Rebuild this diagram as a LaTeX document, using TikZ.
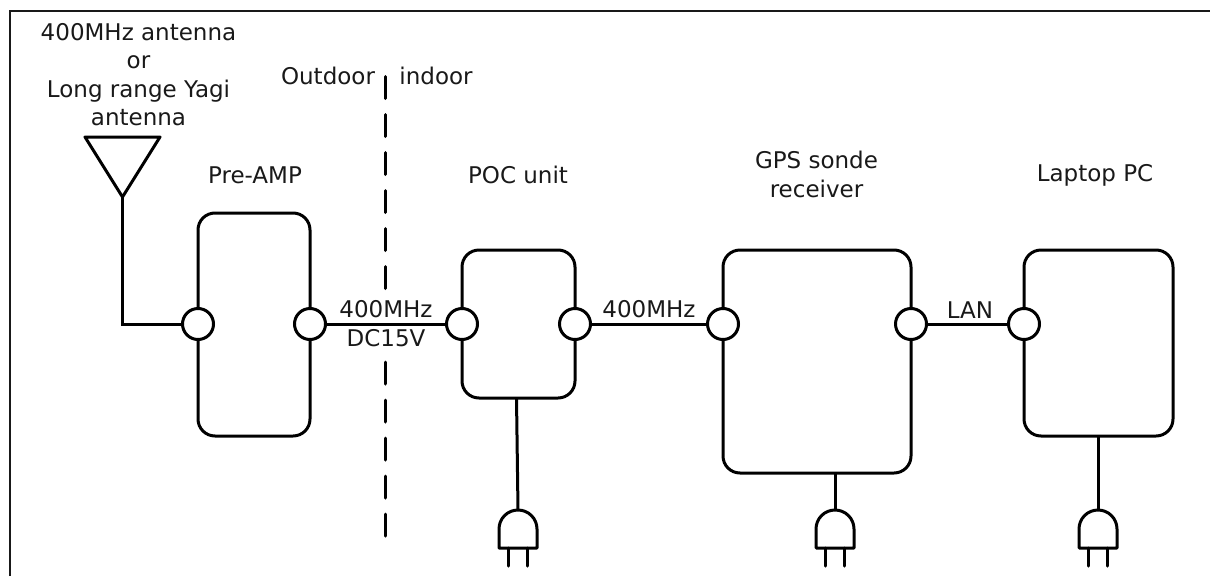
\documentclass[tikz,border=0pt]{standalone}
\usepackage{fontspec}
\setmainfont{DejaVu Sans}
\tikzset{
  x=1pt,y=-1pt,
  frameline/.style={line width=2pt,draw=black!90},
  unitbox/.style={draw,line width=3pt,rounded corners=17pt,inner sep=0pt,outer sep=0pt},
  port/.style={draw,circle,line width=3pt,fill=white,minimum size=31pt,inner sep=0pt,outer sep=0pt},
  wire/.style={line width=3pt},
  lbl/.style={font=\fontsize{23pt}{28.3pt}\selectfont,text=black!90,inner sep=0pt,align=center},
  barrier/.style={line width=3pt,dash pattern=on 22pt off 16pt,line cap=round},
}
% #1 name of the top coordinate, #2 centre x
\newcommand{\plugat}[2]{%
  \coordinate (#1) at (#2,510);
  \draw[wire,line join=round] (#2-19,548) -- (#2-19,529) arc[start angle=180,end angle=0,radius=19pt] -- (#2+19,548) -- cycle;
  \draw[wire,line cap=round] (#2-9.5,548) -- (#2-9.5,566);
  \draw[wire,line cap=round] (#2+9.5,548) -- (#2+9.5,566);
}
\begin{document}
\begin{tikzpicture}
\useasboundingbox (0,0) rectangle (1210,576);
\draw[frameline] (10,576) -- (10,11) -- (1210,11);

\draw[barrier] (385,76.5) -- (385,288.5);
\draw[barrier] (385,362) -- (385,536);

\node[unitbox,minimum width=112pt,minimum height=223pt] (amp) at (254,324.5) {};
\node[unitbox,minimum width=113pt,minimum height=148pt] (poc) at (518.5,324) {};
\node[unitbox,minimum width=188pt,minimum height=223pt] (gps) at (817,361.5) {};
\node[unitbox,minimum width=149pt,minimum height=186pt] (pc) at (1098.5,343) {};

% labels
\node[lbl] (antlbl) at (138.5,74.5) {400MHz antenna\\or\\Long range Yagi\\antenna};
\node[lbl] (outlbl) at (328,76) {Outdoor};
\node[lbl] (inlbl) at (436,76) {indoor};
\node[lbl] (amplbl) at (255,175) {Pre-AMP};
\node[lbl] (poclbl) at (518,175) {POC unit};
\node[lbl] (gpslbl) at (816.5,174.5) {GPS sonde\\receiver};
\node[lbl] (pclbl) at (1095,175) {Laptop PC};
\node[lbl] (l400a) at (386,309) {400MHz};
\node[lbl] (ldc) at (386,338) {DC15V};
\node[lbl] (l400b) at (649,309) {400MHz};
\node[lbl] (llan) at (970,310) {LAN};

% antenna
\coordinate (antleft) at (85,137);
\coordinate (antright) at (160,137);
\coordinate (anttip) at (122.5,197);
\draw[wire,line join=round] (antleft) -- (antright) -- (anttip) -- cycle;

% ports
\node[port] (p1) at (198,324) {};
\node[port] (p2) at (310,324) {};
\node[port] (p3) at (462,324) {};
\node[port] (p4) at (575,324) {};
\node[port] (p5) at (723,324) {};
\node[port] (p6) at (911,324) {};
\node[port] (p7) at (1024,324) {};

% connectors
\draw[wire] (anttip) |- (p1.west);
\draw[wire] (p2) -- (p3);
\draw[wire] (p4) -- (p5);
\draw[wire] (p6) -- (p7);

% plugs
\plugat{plugA}{518}
\plugat{plugB}{835}
\plugat{plugC}{1098}
\draw[wire] (516.5,398) -- (plugA);
\draw[wire] (plugB |- gps.south) -- (plugB);
\draw[wire] (plugC |- pc.south) -- (plugC);
\end{tikzpicture}
\end{document}
